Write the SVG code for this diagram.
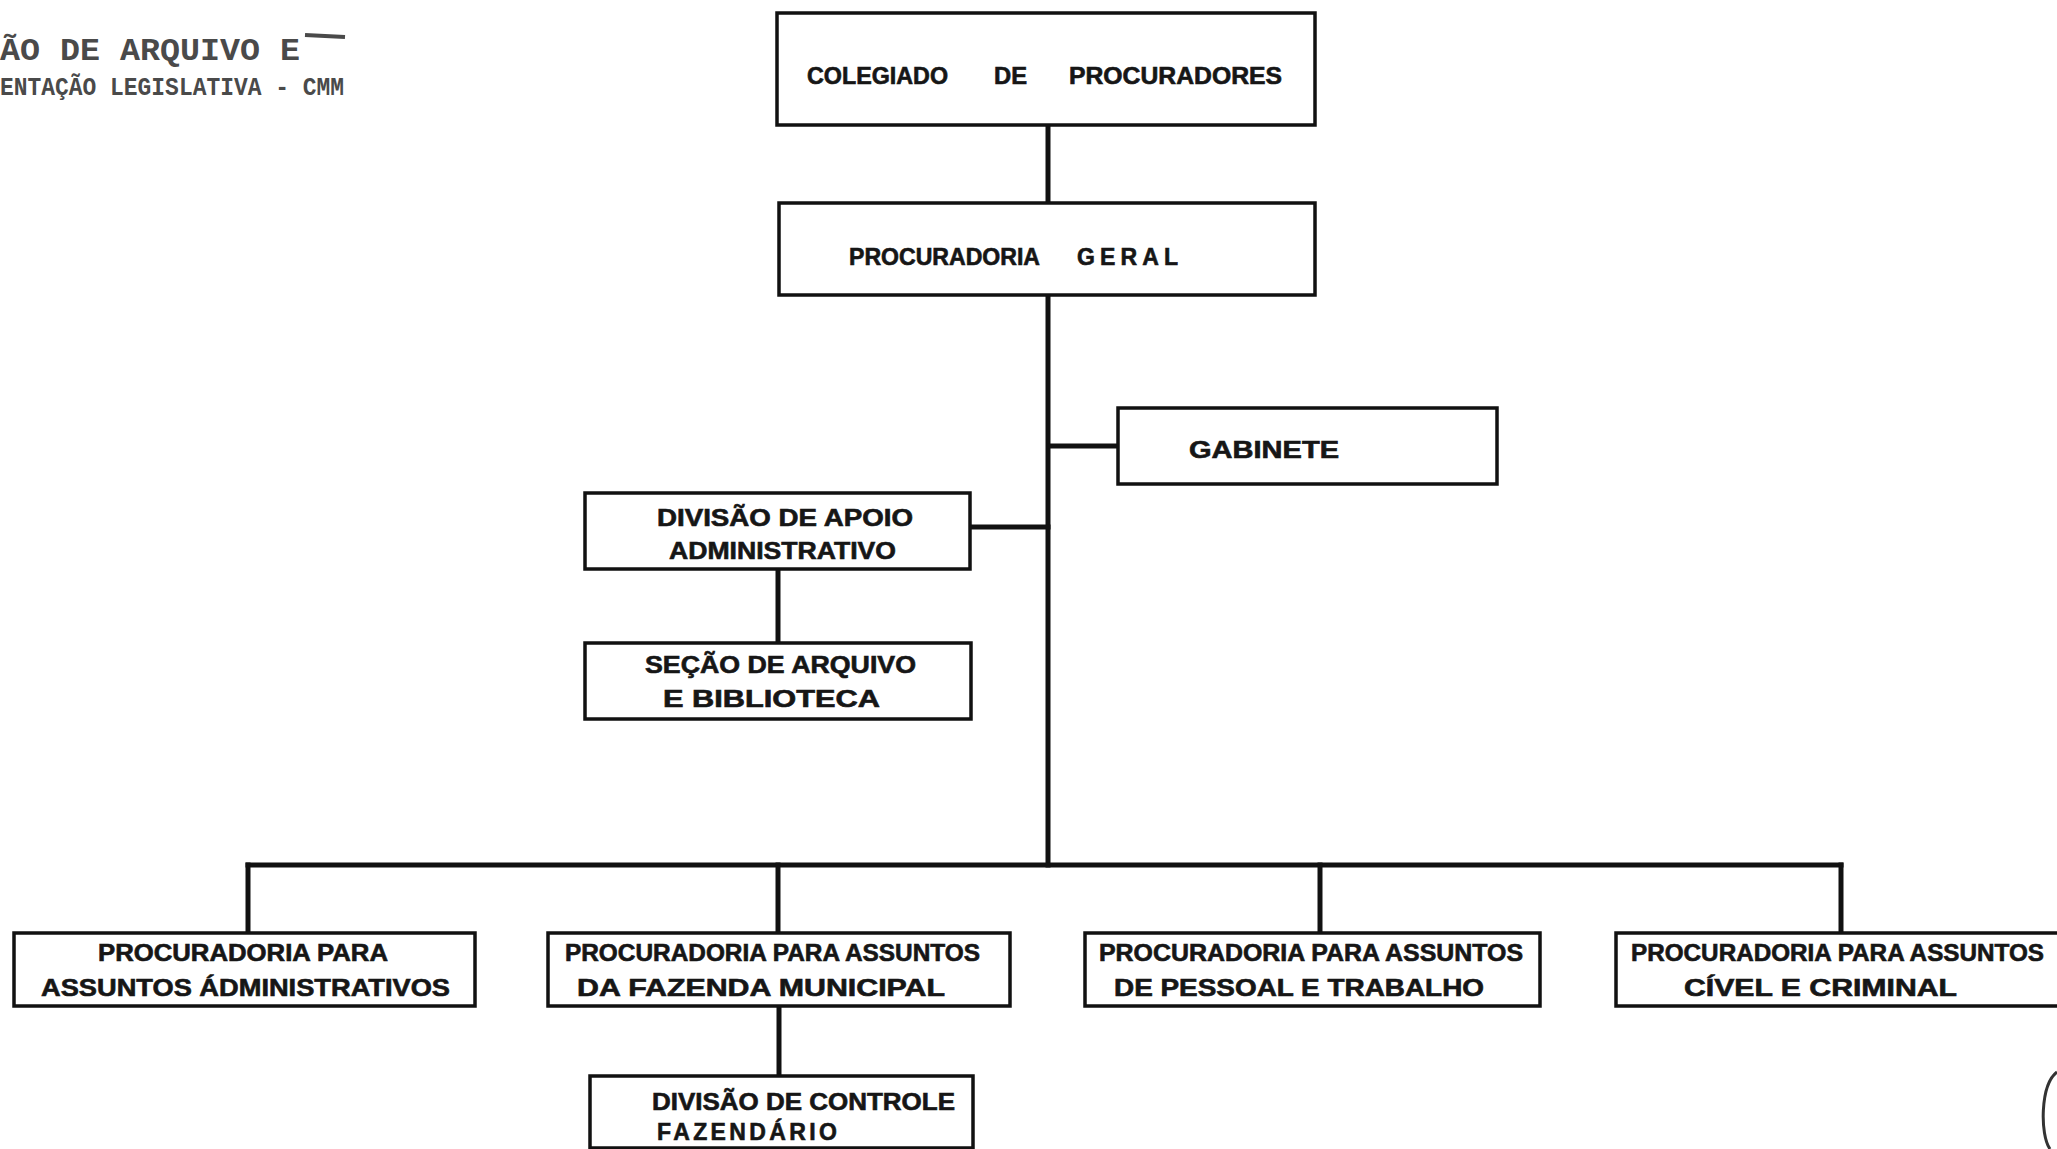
<svg xmlns="http://www.w3.org/2000/svg" width="2057" height="1149" viewBox="0 0 2057 1149">
<style>
.box{fill:#fff;stroke:#111;stroke-width:3.5}
.t{font-family:"Liberation Sans","DejaVu Sans",sans-serif;font-weight:bold;font-size:23px;fill:#161616;stroke:#161616;stroke-width:0.6}
.conn line{stroke:#111;stroke-width:5;stroke-linecap:square}
.stamp{font-family:"Liberation Mono","DejaVu Sans Mono",monospace;font-weight:bold;fill:#4a4a4a}
</style>
<rect width="2057" height="1149" fill="#fff"/>
<g id="stamp">
<text class="stamp" x="0" y="60" font-size="31" textLength="300" lengthAdjust="spacingAndGlyphs">ÃO DE ARQUIVO E</text>
<line x1="305" y1="35" x2="345" y2="37" stroke="#4a4a4a" stroke-width="4"/>
<text class="stamp" x="0" y="95" font-size="25" textLength="344" lengthAdjust="spacingAndGlyphs">ENTAÇÃO LEGISLATIVA - CMM</text>
<path d="M2057,1072 C2040,1085 2040,1135 2050,1149" fill="none" stroke="#333" stroke-width="3"/>
</g>
<g id="connectors" class="conn">
<line x1="1048" y1="125" x2="1048" y2="203"/>
<line x1="1048" y1="295" x2="1048" y2="865"/>
<line x1="1050" y1="446" x2="1118" y2="446"/>
<line x1="970" y1="527" x2="1048" y2="527"/>
<line x1="778" y1="569" x2="778" y2="643"/>
<line x1="248" y1="865" x2="1841" y2="865"/>
<line x1="248" y1="865" x2="248" y2="933"/>
<line x1="778" y1="865" x2="778" y2="933"/>
<line x1="1320" y1="865" x2="1320" y2="933"/>
<line x1="1841" y1="865" x2="1841" y2="933"/>
<line x1="779" y1="1006" x2="779" y2="1076"/>
</g>
<g id="colegiado">
<rect class="box" x="777" y="13" width="538" height="112"/>
<text class="t" x="807" y="84" textLength="141" lengthAdjust="spacingAndGlyphs">COLEGIADO</text>
<text class="t" x="994" y="84" textLength="33" lengthAdjust="spacingAndGlyphs">DE</text>
<text class="t" x="1069" y="84" textLength="213" lengthAdjust="spacingAndGlyphs">PROCURADORES</text>
</g>
<g id="procuradoria-geral">
<rect class="box" x="779" y="203" width="536" height="92"/>
<text class="t" x="849" y="265" textLength="191" lengthAdjust="spacingAndGlyphs">PROCURADORIA</text>
<text class="t" x="1077" y="265" textLength="101" lengthAdjust="spacing">GERAL</text>
</g>
<g id="gabinete">
<rect class="box" x="1118" y="408" width="379" height="76"/>
<text class="t" x="1189" y="458" textLength="150" lengthAdjust="spacingAndGlyphs">GABINETE</text>
</g>
<g id="divisao-apoio">
<rect class="box" x="585" y="493" width="385" height="76"/>
<text class="t" x="657" y="526" textLength="256" lengthAdjust="spacingAndGlyphs">DIVISÃO DE APOIO</text>
<text class="t" x="669" y="559" textLength="227" lengthAdjust="spacingAndGlyphs">ADMINISTRATIVO</text>
</g>
<g id="secao-arquivo">
<rect class="box" x="585" y="643" width="386" height="76"/>
<text class="t" x="645" y="673" textLength="271" lengthAdjust="spacingAndGlyphs">SEÇÃO  DE ARQUIVO</text>
<text class="t" x="663" y="707" textLength="217" lengthAdjust="spacingAndGlyphs">E  BIBLIOTECA</text>
</g>
<g id="proc-administrativos">
<rect class="box" x="14" y="933" width="461" height="73"/>
<text class="t" x="98" y="961" textLength="290" lengthAdjust="spacingAndGlyphs">PROCURADORIA   PARA</text>
<text class="t" x="41" y="996" textLength="409" lengthAdjust="spacingAndGlyphs">ASSUNTOS  ÁDMINISTRATIVOS</text>
</g>
<g id="proc-fazenda">
<rect class="box" x="548" y="933" width="462" height="73"/>
<text class="t" x="565" y="961" textLength="415" lengthAdjust="spacingAndGlyphs">PROCURADORIA PARA ASSUNTOS</text>
<text class="t" x="577" y="996" textLength="368" lengthAdjust="spacingAndGlyphs">DA  FAZENDA   MUNICIPAL</text>
</g>
<g id="proc-pessoal">
<rect class="box" x="1085" y="933" width="455" height="73"/>
<text class="t" x="1099" y="961" textLength="424" lengthAdjust="spacingAndGlyphs">PROCURADORIA PARA ASSUNTOS</text>
<text class="t" x="1114" y="996" textLength="370" lengthAdjust="spacingAndGlyphs">DE  PESSOAL E TRABALHO</text>
</g>
<g id="proc-civel">
<rect class="box" x="1616" y="933" width="460" height="73"/>
<text class="t" x="1631" y="961" textLength="413" lengthAdjust="spacingAndGlyphs">PROCURADORIA  PARA ASSUNTOS</text>
<text class="t" x="1684" y="996" textLength="273" lengthAdjust="spacingAndGlyphs">CÍVEL E  CRIMINAL</text>
</g>
<g id="divisao-controle">
<rect class="box" x="590" y="1076" width="383" height="72"/>
<text class="t" x="652" y="1110" textLength="303" lengthAdjust="spacingAndGlyphs">DIVISÃO DE CONTROLE</text>
<text class="t" x="657" y="1140" textLength="180" lengthAdjust="spacing">FAZENDÁRIO</text>
</g>
</svg>
